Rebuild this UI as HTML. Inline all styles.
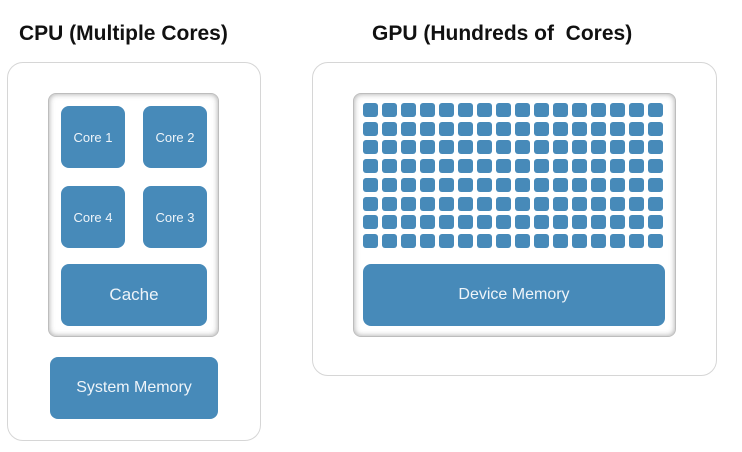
<!DOCTYPE html>
<html><head><style>
body{margin:0;width:742px;height:452px;background:#fff;position:relative;font-family:"Liberation Sans",sans-serif;overflow:hidden}
.a{position:absolute;box-sizing:border-box}
.outer{border:1.5px solid #d6d6d6;border-radius:16px;background:#fff}
.inner{background:#fff;border:1px solid #bdbdbd;border-radius:8px;box-shadow:inset 0 0 6px rgba(0,0,0,.35)}
.b{background:#478ab9;border-radius:8px;color:#eef4f9;display:flex;align-items:center;justify-content:center}
.t{font-weight:bold;font-size:21px;color:#111;white-space:nowrap}
.s{background:#478ab9;border-radius:3px;width:15px;height:14px;position:absolute}
</style></head><body>
<div class="a t" style="left:19px;top:22px">CPU (Multiple Cores)</div>
<div class="a t" style="left:372px;top:22px">GPU (Hundreds of&nbsp; Cores)</div>
<div class="a outer" style="left:7px;top:62px;width:254px;height:379px"></div>
<div class="a inner" style="left:48px;top:93px;width:171px;height:244px"></div>
<div class="a b" style="left:61px;top:106px;width:64px;height:62px;font-size:13px">Core 1</div>
<div class="a b" style="left:143px;top:106px;width:64px;height:62px;font-size:13px">Core 2</div>
<div class="a b" style="left:61px;top:186px;width:64px;height:62px;font-size:13px">Core 4</div>
<div class="a b" style="left:143px;top:186px;width:64px;height:62px;font-size:13px">Core 3</div>
<div class="a b" style="left:61px;top:264px;width:146px;height:62px;font-size:17px">Cache</div>
<div class="a b" style="left:50px;top:357px;width:168px;height:62px;font-size:16px">System Memory</div>
<div class="a outer" style="left:312px;top:62px;width:405px;height:314px"></div>
<div class="a inner" style="left:353px;top:93px;width:323px;height:244px"></div>
<div class="a" id="g" style="left:0;top:0;width:0;height:0"></div>
<div class="a b" style="left:363px;top:264px;width:302px;height:62px;font-size:16px">Device Memory</div>
<script>
var g=document.getElementById('g'),h='';
for(var r=0;r<8;r++)for(var c=0;c<16;c++)h+='<div class="s" style="left:'+(363+c*19)+'px;top:'+(103+r*18.7).toFixed(1)+'px"></div>';
g.innerHTML=h;
</script>
</body></html>
